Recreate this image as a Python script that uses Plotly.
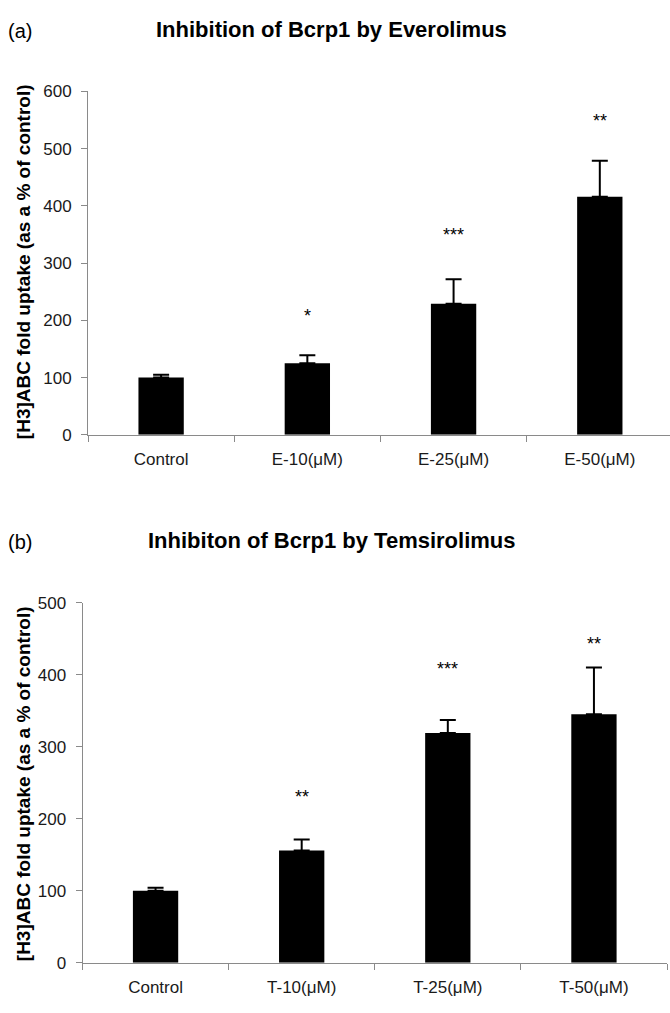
import plotly.graph_objects as go

# ---- data ----
cats_a = ["Control", "E-10(μM)", "E-25(μM)", "E-50(μM)"]
vals_a = [100, 125, 229, 416]
err_a = [5, 14, 43, 63]
stars_a = ["", "*", "***", "**"]
star_y_a = [None, 214, 357, 556]

cats_b = ["Control", "T-10(μM)", "T-25(μM)", "T-50(μM)"]
vals_b = [100, 156, 319, 345]
err_b = [4, 15, 18, 65]
stars_b = ["", "**", "***", "**"]
star_y_b = [None, 236, 414, 448]

yticks_a = [0, 100, 200, 300, 400, 500, 600]
yticks_b = [0, 100, 200, 300, 400, 500]

W, H = 670, 1013
FONT = "Liberation Sans, Arial, sans-serif"
AXCOL = "#8a8a8a"

def px_x(x):
    return x / W

def px_y(y):
    return (H - y) / H

fig = go.Figure()

fig.add_trace(go.Bar(
    x=cats_a, y=vals_a, marker=dict(color="black", line=dict(width=0)),
    width=0.31,
    error_y=dict(type="data", symmetric=False, array=err_a,
                 arrayminus=[0] * len(err_a), color="black", thickness=2, width=8),
    xaxis="x", yaxis="y", showlegend=False))

fig.add_trace(go.Bar(
    x=cats_b, y=vals_b, marker=dict(color="black", line=dict(width=0)),
    width=0.31,
    error_y=dict(type="data", symmetric=False, array=err_b,
                 arrayminus=[0] * len(err_b), color="black", thickness=2, width=8),
    xaxis="x2", yaxis="y2", showlegend=False))

common_x = dict(type="category", showline=True, linecolor=AXCOL, linewidth=1,
                ticks="outside", tickson="boundaries", ticklen=6, tickcolor=AXCOL,
                ticklabelstandoff=9,
                tickfont=dict(family=FONT, size=17, color="#1a1a1a"),
                showgrid=False, zeroline=False, fixedrange=True)
common_y = dict(showline=True, linecolor=AXCOL, linewidth=1,
                ticks="outside", ticklen=6, tickcolor=AXCOL,
                ticklabelstandoff=6,
                tickfont=dict(family=FONT, size=17, color="#1a1a1a"),
                showgrid=False, zeroline=False, fixedrange=True)

fig.update_layout(
    width=W, height=H,
    margin=dict(l=0, r=0, t=0, b=0),
    paper_bgcolor="white", plot_bgcolor="white",
    xaxis=dict(common_x, domain=[px_x(88), 1.0], anchor="y",
               range=[-0.5, 3.48]),
    yaxis=dict(common_y, domain=[px_y(434), px_y(84)], anchor="x",
               range=[0, 600], tickvals=yticks_a),
    xaxis2=dict(common_x, domain=[px_x(82.5), px_x(667)], anchor="y2",
                range=[-0.5, 3.5]),
    yaxis2=dict(common_y, domain=[px_y(972), px_y(605)], anchor="x2",
                range=[0, 500], tickvals=yticks_b),
)

ann = []
# panel labels and titles
ann.append(dict(text="(a)", x=px_x(6), y=px_y(22), xref="paper", yref="paper",
                xanchor="left", yanchor="middle", showarrow=False,
                font=dict(family=FONT, size=20, color="black")))
ann.append(dict(text="<b>Inhibition of Bcrp1 by Everolimus</b>", x=px_x(331), y=px_y(21),
                xref="paper", yref="paper", xanchor="center", yanchor="middle",
                showarrow=False, font=dict(family=FONT, size=22, color="black")))
ann.append(dict(text="(b)", x=px_x(6), y=px_y(543), xref="paper", yref="paper",
                xanchor="left", yanchor="middle", showarrow=False,
                font=dict(family=FONT, size=20, color="black")))
ann.append(dict(text="<b>Inhibiton of Bcrp1 by Temsirolimus</b>", x=px_x(332), y=px_y(542),
                xref="paper", yref="paper", xanchor="center", yanchor="middle",
                showarrow=False, font=dict(family=FONT, size=22, color="black")))
# y axis titles
ytitle = "<b>[H3]ABC fold uptake (as a % of control)</b>"
ann.append(dict(text=ytitle, x=px_x(23), y=px_y(258), xref="paper", yref="paper",
                xanchor="center", yanchor="middle", textangle=-90, showarrow=False,
                font=dict(family=FONT, size=19, color="black")))
ann.append(dict(text=ytitle, x=px_x(23), y=px_y(790), xref="paper", yref="paper",
                xanchor="center", yanchor="middle", textangle=-90, showarrow=False,
                font=dict(family=FONT, size=19, color="black")))
# significance stars
for c, s, yv in zip(cats_a, stars_a, star_y_a):
    if s:
        ann.append(dict(text=s, x=c, y=yv, xref="x", yref="y", showarrow=False,
                        yanchor="middle", yshift=-4,
                        font=dict(family=FONT, size=18, color="black")))
for c, s, yv in zip(cats_b, stars_b, star_y_b):
    if s:
        ann.append(dict(text=s, x=c, y=yv, xref="x2", yref="y2", showarrow=False,
                        yanchor="middle", yshift=-4,
                        font=dict(family=FONT, size=18, color="black")))

fig.update_layout(annotations=ann)

fig.write_html("out.html")
